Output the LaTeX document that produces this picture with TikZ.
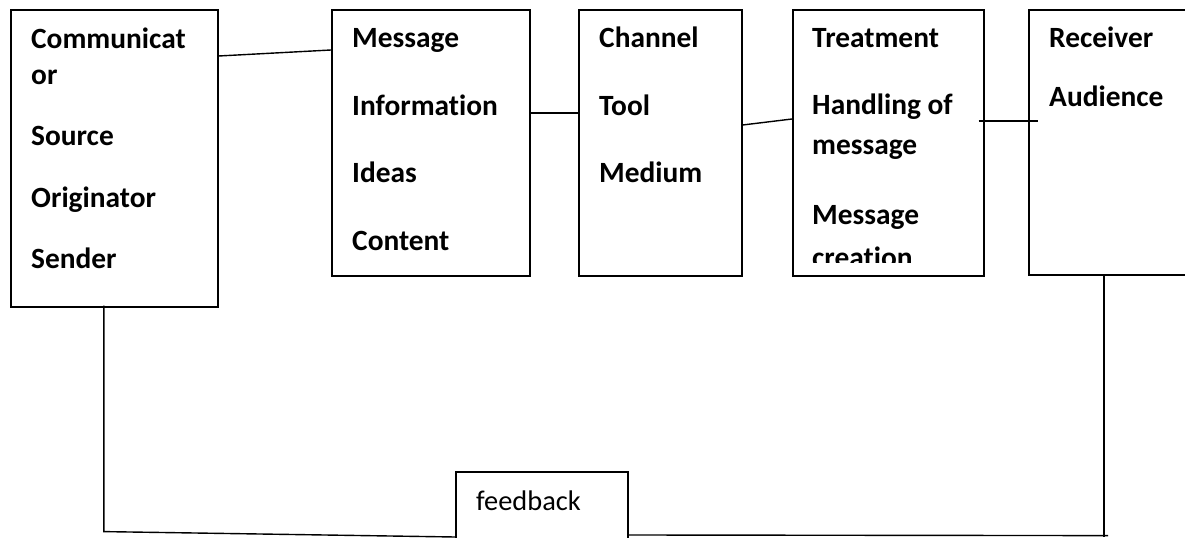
\documentclass[tikz,border=0pt]{standalone}
\usepackage{fontspec}
\setmainfont{Carlito}[Ligatures=NoCommon]
\begin{document}
\begin{tikzpicture}[x=1bp, y=-1bp,
  box/.style={draw, line width=1.6bp, inner sep=0pt, anchor=north west},
  item/.style={anchor=base west, inner sep=0pt, font=\fontsize{29.5}{35}\selectfont\bfseries},
  plain/.style={anchor=base west, inner sep=0pt, font=\fontsize{28.5}{34}\selectfont},
  link/.style={line width=1.4bp}]
\useasboundingbox (0,0) rectangle (1185,538);
\clip (0,0) rectangle (1185,538);

% the five stages
\node[box, minimum width=207bp, minimum height=297bp] (b1) at (10,9) {};
\node[box, minimum width=198bp, minimum height=266bp] (b2) at (331,9) {};
\node[box, minimum width=163bp, minimum height=266bp] (b3) at (578,9) {};
\node[box, minimum width=191bp, minimum height=266bp] (b4) at (792,9) {};
\node[box, minimum width=180bp, minimum height=265bp] (b5) at (1028,9) {};
% feedback box, running off the lower edge
\node[box, minimum width=172bp, minimum height=90bp] (fb) at (455,471) {};

% stage texts
\node[item] (t11) at (31,49) {Communicat};
\node[item] (t12) at (31,85) {or};
\node[item] (t13) at (31,146) {Source};
\node[item] (t14) at (31,208) {Originator};
\node[item] (t15) at (31,269) {Sender};

\node[item] (t21) at (352,48) {Message};
\node[item] (t22) at (352,116) {Information};
\node[item] (t23) at (352,183) {Ideas};
\node[item] (t24) at (352,251) {Content};

\node[item] (t31) at (599,48) {Channel};
\node[item] (t32) at (599,116) {Tool};
\node[item] (t33) at (599,183) {Medium};

\node[item] (t41) at (812,48) {Treatment};
\node[item] (t42) at (812,115) {Handling of};
\node[item] (t43) at (812,155) {message};
\node[item] (t44) at (812,225) {Message};
\begin{scope}
  \clip (792,9) rectangle (983,263);
  \node[item] (t45) at (812,268) {creation};
\end{scope}

\node[item] (t51) at (1049,48) {Receiver};
\node[item] (t52) at (1049,107) {Audience};

\node[plain] (tf) at (476,510) {feedback};

% connectors between the stages
\draw[link] ([yshift=-47bp]b1.north east) -- ([yshift=-41bp]b2.north west);
\draw[link] ([yshift=-104bp]b2.north east) -- ([yshift=-104bp]b3.north west);
\draw[link] ([yshift=-116bp]b3.north east) -- ([yshift=-110bp]b4.north west);
\draw[link] ([xshift=-6bp,yshift=-112bp]b4.north east) -- ([xshift=10bp,yshift=-112bp]b5.north west);

% feedback loop
\draw[link] ([xshift=-10.5bp,yshift=2bp]b1.south) -- ++(0,226) -- ([yshift=-66bp]fb.north west);
\draw[link] ([yshift=-64bp]fb.north east) -- ([xshift=80bp,yshift=-260bp]b5.south west);
\draw[link] ([xshift=76bp,yshift=-261bp]b5.south west) -- ([xshift=76bp]b5.south west);
\end{tikzpicture}
\end{document}
